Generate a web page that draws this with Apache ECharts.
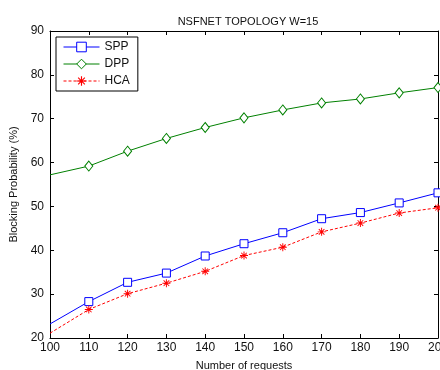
<!DOCTYPE html>
<html>
<head>
<meta charset="utf-8">
<script src="https://cdn.jsdelivr.net/npm/echarts@6/dist/echarts.min.js"></script>
<style>
  html, body { margin: 0; padding: 0; background: #fff; }
  #chart { width: 440px; height: 370px; }
</style>
</head>
<body>
<div id="chart"></div>
<script>
// Blocking probability vs number of requests, NSFNET, W=15
const requests = [100, 110, 120, 130, 140, 150, 160, 170, 180, 190, 200];
const spp = [23.2, 28.3, 32.7, 34.8, 38.7, 41.5, 44.0, 47.2, 48.6, 50.8, 53.1];
const dpp = [57.2, 59.2, 62.6, 65.5, 68.0, 70.2, 72.0, 73.6, 74.5, 75.9, 77.1];
const hca = [21.1, 26.5, 30.1, 32.5, 35.2, 38.8, 40.7, 44.2, 46.2, 48.5, 49.7];
const yTicks = [20, 30, 40, 50, 60, 70, 80, 90];

const FONT = '"Liberation Sans", Arial, sans-serif';
const STAR = 'path://M-0.6,-5L0.6,-5L0.6,5L-0.6,5Z M-5,-0.6L5,-0.6L5,0.6L-5,0.6Z ' +
  'M-3.9,-3.1L-3.1,-3.9L3.9,3.1L3.1,3.9Z M3.1,-3.9L3.9,-3.1L-3.1,3.9L-3.9,3.1Z';

const chart = echarts.init(document.getElementById('chart'));

// first point sits on the left frame without a marker
const pts = (vals) => vals.map((v, i) => {
  const p = { value: [requests[i], v] };
  if (i === 0) p.symbol = 'none';
  return p;
});

const tickAxis = {
  min: requests[0], max: requests[requests.length - 1], interval: 10,
  axisLine: { show: true, lineStyle: { color: '#000', width: 1 } },
  axisTick: { show: true, inside: true, length: 4, lineStyle: { color: '#000' } },
  splitLine: { show: false },
};

chart.setOption({
  animation: false,
  textStyle: { fontFamily: FONT },
  title: {
    text: 'NSFNET TOPOLOGY W=15',
    left: 243, top: 11, textAlign: 'center',
    textStyle: { fontSize: 11, fontWeight: 'normal', color: '#111', fontFamily: FONT },
  },
  legend: {
    orient: 'vertical', left: 56, top: 37,
    backgroundColor: '#fff', borderColor: '#000', borderWidth: 1,
    padding: [4, 8, 4, 7], itemWidth: 36, itemHeight: 12, itemGap: 5,
    lineStyle: { width: 1 },
    itemStyle: { borderWidth: 1 },
    textStyle: { fontSize: 12, color: '#111', fontFamily: FONT },
    data: ['SPP', 'DPP', 'HCA'],
  },
  grid: { left: 50, right: 2, top: 31, bottom: 32, outerBoundsMode: 'none' },
  xAxis: [
    Object.assign({}, tickAxis, {
      type: 'value', position: 'bottom',
      name: 'Number of requests', nameLocation: 'middle', nameGap: 22,
      nameTextStyle: { fontSize: 11, color: '#111', fontFamily: FONT },
      axisLabel: { fontSize: 12, color: '#111', margin: 4, fontFamily: FONT },
    }),
    Object.assign({}, tickAxis, { type: 'value', position: 'top', axisLabel: { show: false } }),
  ],
  yAxis: [
    Object.assign({}, tickAxis, {
      type: 'value', position: 'left', min: yTicks[0], max: yTicks[yTicks.length - 1],
      name: 'Blocking Probability (%)', nameLocation: 'middle', nameGap: 19,
      nameTextStyle: { fontSize: 11, color: '#111', fontFamily: FONT },
      axisLabel: { fontSize: 12, color: '#111', margin: 6, fontFamily: FONT },
    }),
    Object.assign({}, tickAxis, {
      type: 'value', position: 'right', min: yTicks[0], max: yTicks[yTicks.length - 1],
      axisLabel: { show: false },
    }),
  ],
  series: [
    {
      name: 'SPP', type: 'line', data: pts(spp),
      symbol: 'rect', symbolSize: 8,
      lineStyle: { color: '#0000ff', width: 1 },
      itemStyle: { color: '#fff', borderColor: '#0000ff', borderWidth: 1 },
      z: 3,
    },
    {
      name: 'DPP', type: 'line', data: pts(dpp),
      symbol: 'diamond', symbolSize: [8, 10],
      lineStyle: { color: '#008000', width: 1 },
      itemStyle: { color: '#fff', borderColor: '#008000', borderWidth: 1 },
      z: 3,
    },
    {
      name: 'HCA', type: 'line', data: pts(hca),
      symbol: STAR, symbolSize: 8, symbolKeepAspect: true,
      lineStyle: { color: '#ff0000', width: 1, type: [3, 2] },
      itemStyle: { color: '#ff0000', borderWidth: 0 },
      z: 3,
    },
  ],
});
</script>
</body>
</html>
